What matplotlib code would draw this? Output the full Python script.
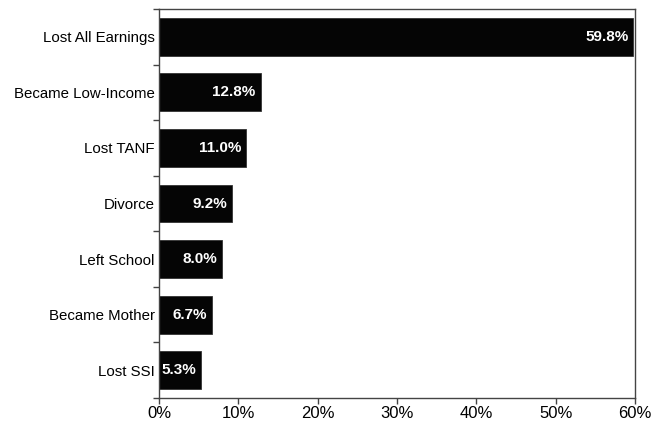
import matplotlib.pyplot as plt
from matplotlib.ticker import FixedLocator, PercentFormatter

plt.rcParams['font.family'] = ['Liberation Sans', 'DejaVu Sans']

# Data
categories = ["Lost All Earnings", "Became Low-Income", "Lost TANF", "Divorce",
              "Left School", "Became Mother", "Lost SSI"]
values = [59.8, 12.8, 11.0, 9.2, 8.0, 6.7, 5.3]

fig = plt.figure(figsize=(6.63, 4.24), dpi=100)
ax = fig.add_axes([159 / 663, 26 / 424, 476 / 663, 389 / 424])

pos = list(range(len(categories)))[::-1]
ax.barh(pos, values, height=0.68, color="#050505", edgecolor="#333333", linewidth=0.6)

for y, v in zip(pos, values):
    ax.annotate(f"{v:.1f}%", (v, y), xytext=(-3.6, 0), textcoords="offset points",
                ha="right", va="center", color="white", fontweight="bold", fontsize=11)

ax.set_xlim(0, 60)
ax.set_ylim(-0.5, len(categories) - 0.5)
ax.set_xticks(range(0, 61, 10))
ax.xaxis.set_major_formatter(PercentFormatter(decimals=0))

ax.set_yticks(pos)
ax.set_yticklabels(categories)
ax.yaxis.set_minor_locator(FixedLocator([p + 0.5 for p in range(-1, len(categories))]))
ax.tick_params(axis="y", which="major", length=0, pad=3, labelsize=10.8)
ax.tick_params(axis="y", which="minor", length=4, width=1, color="#444444")
ax.tick_params(axis="x", length=4, width=1, color="#444444", labelsize=12, pad=2)

for s in ax.spines.values():
    s.set_color("#444444")
    s.set_linewidth(1)

plt.savefig("out.png", dpi=100)
